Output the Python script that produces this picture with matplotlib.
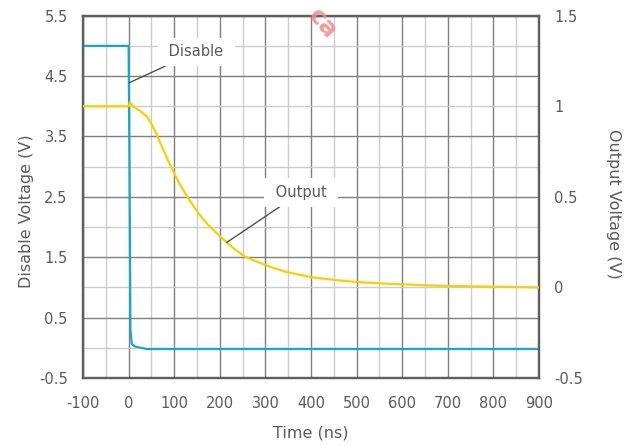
import numpy as np
import matplotlib.pyplot as plt
from matplotlib.ticker import MultipleLocator

time_disable = [-100, 0, 2, 4, 7, 15, 40, 900]
v_disable = [5.0, 5.0, 3.0, 0.3, 0.06, 0.02, -0.02, -0.02]

time_output = [-100, 0, 3, 10, 25, 40, 51, 62, 73, 84, 94.5, 109, 124, 138,
               153, 171, 189.5, 211, 233, 255, 299, 343, 401.5, 452.6, 504,
               562, 650, 705, 800, 900]
v_output = [1.0, 1.0, 1.023, 0.999, 0.975, 0.944, 0.898, 0.843, 0.778, 0.714,
            0.659, 0.585, 0.520, 0.465, 0.410, 0.355, 0.308, 0.258, 0.21,
            0.17, 0.124, 0.087, 0.056, 0.041, 0.029, 0.021, 0.012, 0.008,
            0.004, 0.0]

x_ticks = list(range(-100, 1000, 100))
left_ticks = [-0.5, 0.5, 1.5, 2.5, 3.5, 4.5, 5.5]
right_ticks = [-0.5, 0, 0.5, 1, 1.5]

blue = "#16a8cc"
yellow = "#ffcc00"
txt = "#595959"

plt.rcParams["font.family"] = "DejaVu Sans"
plt.rcParams["axes.unicode_minus"] = False

fig = plt.figure(figsize=(6.26, 4.46), dpi=100)
ax = fig.add_axes([83 / 626, 1 - 378 / 446, (539 - 83) / 626, (378 - 15.7) / 446])
ax2 = ax.twinx()

ax.set_xlim(-100, 900)
ax.set_ylim(-0.5, 5.5)
ax2.set_ylim(-0.5, 1.5)

ax.set_xticks(x_ticks)
ax.xaxis.set_minor_locator(MultipleLocator(50))
ax.set_yticks(left_ticks)
ax.set_yticklabels([f"{v:g}" for v in left_ticks])
ax.yaxis.set_minor_locator(MultipleLocator(1.0))
ax2.set_yticks(right_ticks)
ax2.set_yticklabels([f"{v:g}" for v in right_ticks])

ax.grid(True, which="major", color="#7f7f7f", linewidth=1.0)
ax.grid(True, which="minor", color="#cccccc", linewidth=1.0)
ax.set_axisbelow(True)

for a in (ax, ax2):
    a.tick_params(which="both", length=0, labelsize=10.5, colors=txt, pad=11)
    for s in a.spines.values():
        s.set_color("#5f5f5f")
        s.set_linewidth(1.6)
ax.tick_params(axis="x", pad=13)

ax.plot(time_disable, v_disable, color=blue, linewidth=1.6, zorder=4)
ax2.plot(time_output, v_output, color=yellow, linewidth=1.6, zorder=3)

ax.set_xlabel("Time (ns)", fontsize=11.5, color=txt)
ax.set_ylabel("Disable Voltage (V)", fontsize=11.5, color=txt)
ax2.set_ylabel("Output Voltage (V)", fontsize=11.5, color=txt, rotation=270)
ax.xaxis.set_label_coords(0.5, -0.13)
ax.yaxis.set_label_coords(-0.107, 0.46)
ax2.yaxis.set_label_coords(1.18, 0.48)

box = dict(boxstyle="square,pad=0.45", facecolor="white", edgecolor="none")
line = dict(arrowstyle="-", color="#404040", linewidth=0.9, shrinkA=0, shrinkB=0)
ax.annotate(" Disable ", xy=(1.5, 4.39), xytext=(148, 4.9),
            fontsize=10.5, color=txt, ha="center", va="center",
            bbox=box, arrowprops=line, zorder=5)
ax2.annotate(" Output ", xy=(215, 0.248), xytext=(378, 0.524),
             fontsize=10.5, color=txt, ha="center", va="center",
             bbox=box, arrowprops=line, zorder=5)

# znak wodny
fig.text(322 / 626, 1 - 24 / 446, "ca", color="#f28b8b", fontsize=18,
         fontweight="bold", rotation=-50, ha="center", va="center", alpha=0.85)

fig.savefig("out.png", dpi=100)
